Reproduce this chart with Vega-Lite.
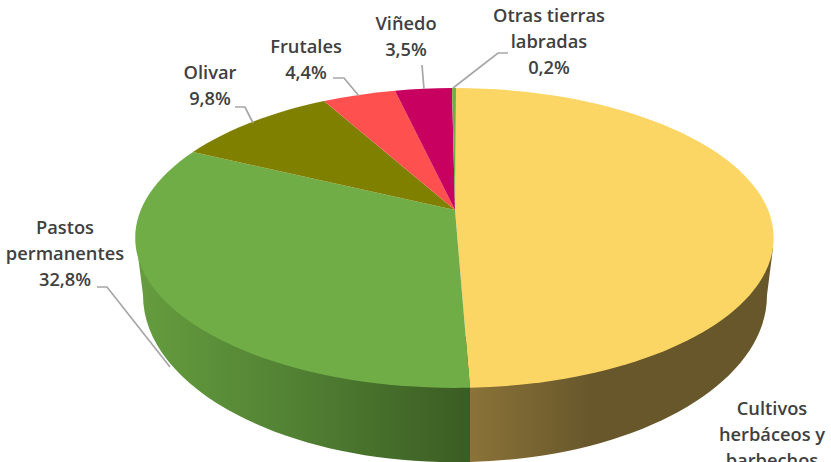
{"$schema":"https://vega.github.io/schema/vega-lite/v6.json","width":831,"height":462,"padding":0,"autosize":{"type":"none"},"background":"white","config":{"view":{"stroke":null}},
"data":{"values":[
{"categoria":"Cultivos herbáceos y barbechos","porcentaje":49.3,"etiqueta":"Cultivos\nherbáceos y\nbarbechos\n49,3%"},
{"categoria":"Pastos permanentes","porcentaje":32.8,"etiqueta":"Pastos\npermanentes\n32,8%"},
{"categoria":"Olivar","porcentaje":9.8,"etiqueta":"Olivar\n9,8%"},
{"categoria":"Frutales","porcentaje":4.4,"etiqueta":"Frutales\n4,4%"},
{"categoria":"Viñedo","porcentaje":3.5,"etiqueta":"Viñedo\n3,5%"},
{"categoria":"Otras tierras labradas","porcentaje":0.2,"etiqueta":"Otras tierras\nlabradas\n0,2%"}
]},
"resolve":{"scale":{"shape":"independent"}},
"layer":[
{"transform":[{"filter":"datum.categoria==='Pastos permanentes'"}],
"mark":{"type":"point","filled":true,"opacity":1,"strokeWidth":0,"shape":"M15,100 L-318,10 L-312,57 A312,167 0 0 0 15,224 Z","fill":{"x1":0,"y1":0,"x2":1,"y2":0,"gradient":"linear","stops":[{"offset":0,"color":"#669d3f"},{"offset":0.5,"color":"#507f32"},{"offset":1,"color":"#3b5c23"}]}},
"encoding":{"size":{"value":4},"x":{"datum":0,"type":"quantitative","scale":{"domain":[-455,376],"nice":false,"zero":false},"axis":null},"y":{"datum":0,"type":"quantitative","scale":{"domain":[-224,238],"nice":false,"zero":false},"axis":null}}},
{"transform":[{"filter":"datum.categoria==='Cultivos herbáceos y barbechos'"}],
"mark":{"type":"point","filled":true,"opacity":1,"strokeWidth":0,"shape":"M15,100 L318,10 L312,57 A312,167 0 0 1 15,224 Z","fill":{"x1":0,"y1":0,"x2":1,"y2":0,"gradient":"linear","stops":[{"offset":0,"color":"#8b7338"},{"offset":0.4,"color":"#67572b"},{"offset":1,"color":"#67572b"}]}},
"encoding":{"size":{"value":4},"x":{"datum":0,"type":"quantitative","scale":{"domain":[-455,376],"nice":false,"zero":false},"axis":null},"y":{"datum":0,"type":"quantitative","scale":{"domain":[-224,238],"nice":false,"zero":false},"axis":null}}},
{"mark":{"type":"point","filled":true,"opacity":1,"strokeWidth":0},
"encoding":{"size":{"value":4},"x":{"datum":0,"type":"quantitative","scale":{"domain":[-455,376],"nice":false,"zero":false},"axis":null},"y":{"datum":0,"type":"quantitative","scale":{"domain":[-224,238],"nice":false,"zero":false},"axis":null},
"color":{"field":"categoria","type":"nominal","legend":null,"scale":{"domain":["Cultivos herbáceos y barbechos","Pastos permanentes","Olivar","Frutales","Viñedo","Otras tierras labradas"],"range":["#fbd664","#70ad47","#808000","#ff5050","#c80060","#70ad47"]}},
"shape":{"field":"categoria","type":"nominal","legend":null,"scale":{"domain":["Cultivos herbáceos y barbechos","Pastos permanentes","Olivar","Frutales","Viñedo","Otras tierras labradas"],"range":["M0,-28 L1,-150 A320,150 0 0 1 15,149.8 Z","M0,-28 L15,149.8 A320,150 0 0 1 -262,-86 Z","M0,-28 L-262,-86 A320,150 0 0 1 -131,-137 Z","M0,-28 L-131,-137 A320,150 0 0 1 -60,-147.3 Z","M0,-28 L-60,-147.3 A320,150 0 0 1 -3,-150 Z","M0,-28 L-3,-150 A320,150 0 0 1 1,-150 Z"]}}}},
{"transform":[{"filter":"datum.categoria!=='Cultivos herbáceos y barbechos'"}],
"mark":{"type":"point","filled":false,"opacity":1,"stroke":"#a6a6a6","strokeWidth":1.7},
"encoding":{"size":{"value":4},"x":{"datum":0,"type":"quantitative","scale":{"domain":[-455,376],"nice":false,"zero":false},"axis":null},"y":{"datum":0,"type":"quantitative","scale":{"domain":[-224,238],"nice":false,"zero":false},"axis":null},
"shape":{"field":"categoria","type":"nominal","legend":null,"scale":{"domain":["Pastos permanentes","Olivar","Frutales","Viñedo","Otras tierras labradas"],"range":["M-358,49 L-348,49 L-285,129","M-220,-131 L-210,-131 L-202,-115","M-122,-160 L-111,-160 L-96,-142","M-33,-173 L-31,-149","M53,-185 L43,-185 L-2,-150"]}}}},
{"transform":[{"filter":"datum.categoria==='Cultivos herbáceos y barbechos'"}],"mark":{"type":"text","font":"Open Sans","fontWeight":600,"fontSize":18.3,"color":"#404040","align":"center","baseline":"middle","lineBreak":"\n","lineHeight":26},"encoding":{"text":{"field":"etiqueta"},"x":{"datum":317,"type":"quantitative","scale":{"domain":[-455,376],"nice":false,"zero":false},"axis":null},"y":{"datum":-172,"type":"quantitative","scale":{"domain":[-224,238],"nice":false,"zero":false},"axis":null}}},
{"transform":[{"filter":"datum.categoria==='Pastos permanentes'"}],"mark":{"type":"text","font":"Open Sans","fontWeight":600,"fontSize":18.3,"color":"#404040","align":"center","baseline":"middle","lineBreak":"\n","lineHeight":26},"encoding":{"text":{"field":"etiqueta"},"x":{"datum":-390,"type":"quantitative","scale":{"domain":[-455,376],"nice":false,"zero":false},"axis":null},"y":{"datum":9,"type":"quantitative","scale":{"domain":[-224,238],"nice":false,"zero":false},"axis":null}}},
{"transform":[{"filter":"datum.categoria==='Olivar'"}],"mark":{"type":"text","font":"Open Sans","fontWeight":600,"fontSize":18.3,"color":"#404040","align":"center","baseline":"middle","lineBreak":"\n","lineHeight":26},"encoding":{"text":{"field":"etiqueta"},"x":{"datum":-245,"type":"quantitative","scale":{"domain":[-455,376],"nice":false,"zero":false},"axis":null},"y":{"datum":164,"type":"quantitative","scale":{"domain":[-224,238],"nice":false,"zero":false},"axis":null}}},
{"transform":[{"filter":"datum.categoria==='Frutales'"}],"mark":{"type":"text","font":"Open Sans","fontWeight":600,"fontSize":18.3,"color":"#404040","align":"center","baseline":"middle","lineBreak":"\n","lineHeight":26},"encoding":{"text":{"field":"etiqueta"},"x":{"datum":-149,"type":"quantitative","scale":{"domain":[-455,376],"nice":false,"zero":false},"axis":null},"y":{"datum":190,"type":"quantitative","scale":{"domain":[-224,238],"nice":false,"zero":false},"axis":null}}},
{"transform":[{"filter":"datum.categoria==='Viñedo'"}],"mark":{"type":"text","font":"Open Sans","fontWeight":600,"fontSize":18.3,"color":"#404040","align":"center","baseline":"middle","lineBreak":"\n","lineHeight":26},"encoding":{"text":{"field":"etiqueta"},"x":{"datum":-49,"type":"quantitative","scale":{"domain":[-455,376],"nice":false,"zero":false},"axis":null},"y":{"datum":213,"type":"quantitative","scale":{"domain":[-224,238],"nice":false,"zero":false},"axis":null}}},
{"transform":[{"filter":"datum.categoria==='Otras tierras labradas'"}],"mark":{"type":"text","font":"Open Sans","fontWeight":600,"fontSize":18.3,"color":"#404040","align":"center","baseline":"middle","lineBreak":"\n","lineHeight":26},"encoding":{"text":{"field":"etiqueta"},"x":{"datum":94,"type":"quantitative","scale":{"domain":[-455,376],"nice":false,"zero":false},"axis":null},"y":{"datum":221,"type":"quantitative","scale":{"domain":[-224,238],"nice":false,"zero":false},"axis":null}}}
]}
